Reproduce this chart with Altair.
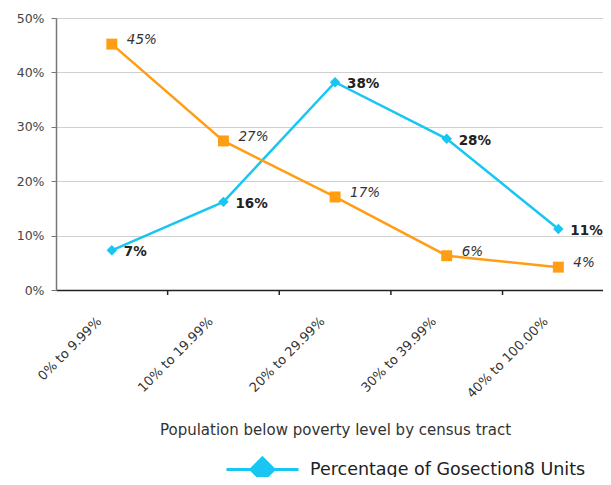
import altair as alt
import pandas as pd

categories = ["0% to 9.99%", "10% to 19.99%", "20% to 29.99%", "30% to 39.99%", "40% to 100.00%"]
gosection8_share = [0.073, 0.162, 0.382, 0.278, 0.112]
population_share = [0.452, 0.274, 0.171, 0.063, 0.042]

series_blue = "Percentage of Gosection8 Units"
series_orange = "Percentage of Population"
x_title = "Population below poverty level by census tract"

BLUE = "#19C6F2"
ORANGE = "#FF9E14"
FONT = "DejaVu Sans"

rows = []
for i, c in enumerate(categories):
    rows.append({"idx": i, "cat": c, "series": series_blue, "value": gosection8_share[i]})
    rows.append({"idx": i, "cat": c, "series": series_orange, "value": population_share[i]})
df = pd.DataFrame(rows)

boundaries = pd.DataFrame({"b": [i + 0.5 for i in range(len(categories) - 1)]})

label_expr = "[" + ",".join("'" + c + "'" for c in categories) + "][datum.value]"

x_scale = alt.Scale(domain=[-0.5, len(categories) - 0.6], nice=False, zero=False)
y_scale = alt.Scale(domain=[0, 0.5], nice=False)
color_scale = alt.Scale(domain=[series_blue, series_orange], range=[BLUE, ORANGE])

x_axis = alt.Axis(
    values=list(range(len(categories))), labelExpr=label_expr, ticks=False,
    labelAngle=-45, labelAlign="right", labelBaseline="middle", labelOffset=-13,
    labelPadding=29, labelFont=FONT, labelFontSize=13, labelColor="#333333",
    domainColor="#222222", domainWidth=1.5, grid=False,
    title=x_title, titleFont=FONT, titleFontSize=15, titleFontWeight="normal",
    titleColor="#333333", titlePadding=22, titleX=279, titleAlign="center",
)
y_axis = alt.Axis(
    values=[0, 0.1, 0.2, 0.3, 0.4, 0.5], format=".0%", labelFont=FONT, labelFontSize=12.5,
    labelColor="#444444", domainColor="#777777", domainWidth=1.5, tickColor="#777777",
    tickSize=5, labelPadding=7, gridColor="#d0d0d0", gridWidth=1, title=None,
)

legend_path = "M-1,0L-0.3,0M0.3,0L1,0M0,-0.32L0.32,0L0,0.32L-0.32,0Z"

base = alt.Chart(df)

lines = base.mark_line(strokeWidth=2.5).encode(
    x=alt.X("idx:Q", scale=x_scale, axis=x_axis),
    y=alt.Y("value:Q", scale=y_scale, axis=y_axis),
    color=alt.Color(
        "series:N", scale=color_scale,
        legend=alt.Legend(
            values=[series_blue], orient="none", legendX=169, legendY=414, title=None,
            symbolType=legend_path, symbolSize=5184, symbolStrokeWidth=3,
            symbolFillColor=BLUE, symbolStrokeColor=BLUE, labelFont=FONT,
            labelFontSize=17.5, labelColor="#222222", labelOffset=10, labelLimit=400,
        ),
    ),
    detail="series:N",
)

blue_points = base.transform_filter(alt.datum.series == series_blue).mark_point(
    filled=True, opacity=1, shape="diamond", size=110, color=BLUE,
).encode(
    x=alt.X("idx:Q", scale=x_scale),
    y=alt.Y("value:Q", scale=y_scale),
)

orange_points = base.transform_filter(alt.datum.series == series_orange).mark_point(
    filled=True, opacity=1, shape="square", size=120, color=ORANGE,
).encode(
    x=alt.X("idx:Q", scale=x_scale),
    y=alt.Y("value:Q", scale=y_scale),
)

blue_text = base.transform_filter(alt.datum.series == series_blue).mark_text(
    align="left", baseline="middle", dx=12, dy=2, font=FONT, fontSize=13.5,
    fontWeight="bold", color="#222222",
).encode(
    x=alt.X("idx:Q", scale=x_scale),
    y=alt.Y("value:Q", scale=y_scale),
    text=alt.Text("value:Q", format=".0%"),
)

orange_text = base.transform_filter(alt.datum.series == series_orange).mark_text(
    align="left", baseline="middle", dx=15, dy=-4, font=FONT, fontSize=13.5,
    fontStyle="italic", color="#333333",
).encode(
    x=alt.X("idx:Q", scale=x_scale),
    y=alt.Y("value:Q", scale=y_scale),
    text=alt.Text("value:Q", format=".0%"),
)

ticks = alt.Chart(boundaries).mark_rule(color="#222222", strokeWidth=1.5).encode(
    x=alt.X("b:Q", scale=x_scale),
    y=alt.value(272),
    y2=alt.value(277),
)

chart = alt.layer(lines, ticks, orange_points, blue_points, blue_text, orange_text).properties(
    width=547, height=272,
    autosize=alt.AutoSizeParams(type="none"),
    padding={"left": 48, "top": 10, "right": 0, "bottom": 187},
).configure_view(stroke=None).configure(background="white")

chart.save("out.html", embed_options={"renderer": "svg", "actions": False})
